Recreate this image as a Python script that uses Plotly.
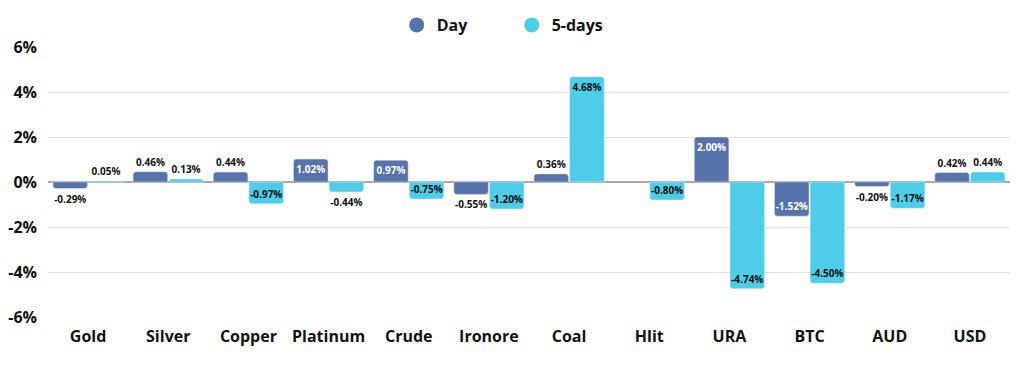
import plotly.graph_objects as go

categories = ["Gold", "Silver", "Copper", "Platinum", "Crude", "Ironore", "Coal", "Hlit", "URA", "BTC", "AUD", "USD"]
day_values = [-0.29, 0.46, 0.44, 1.02, 0.97, -0.55, 0.36, None, 2.00, -1.52, -0.20, 0.42]
five_day_values = [0.05, 0.13, -0.97, -0.44, -0.75, -1.20, 4.68, -0.80, -4.74, -4.50, -1.17, 0.44]
y_ticks = [-6, -4, -2, 0, 2, 4, 6]
y_tick_labels = ["-6%", "-4%", "-2%", "0%", "2%", "4%", "6%"]

FONT = "Open Sans"
DAY_COLOR = "#5873AB"
FIVE_COLOR = "#4ECDE8"


def labels(vals):
    return ["" if v is None else f"{v:.2f}%" for v in vals]


def positions(vals):
    return ["outside" if (v is None or abs(v) < 0.7) else "inside" for v in vals]


def text_colors(vals, inside_color):
    return [inside_color if (v is not None and abs(v) >= 0.7) else "#111111" for v in vals]


fig = go.Figure()
fig.add_trace(go.Bar(
    name="Day", x=categories, y=day_values, marker_color=DAY_COLOR,
    text=labels(day_values), textposition=positions(day_values),
    insidetextanchor="end", textangle=0, constraintext="none",
    textfont=dict(family=FONT, size=10, weight=700, color=text_colors(day_values, "#ffffff")),
    cliponaxis=False, showlegend=False,
))
fig.add_trace(go.Bar(
    name="5-days", x=categories, y=five_day_values, marker_color=FIVE_COLOR,
    text=labels(five_day_values), textposition=positions(five_day_values),
    insidetextanchor="end", textangle=0, constraintext="none",
    textfont=dict(family=FONT, size=10, weight=700, color=text_colors(five_day_values, "#111111")),
    cliponaxis=False, showlegend=False,
))
# circle legend entries
for name, color in [("Day", DAY_COLOR), ("5-days", FIVE_COLOR)]:
    fig.add_trace(go.Scatter(
        name=name, x=[None], y=[None], mode="markers",
        marker=dict(symbol="circle", size=15, color=color), showlegend=True,
    ))

fig.update_layout(
    width=1024, height=375,
    margin=dict(l=40, r=22, t=39, b=66, autoexpand=False),
    paper_bgcolor="white", plot_bgcolor="white",
    barmode="group", bargap=0.11, bargroupgap=0.03, barcornerradius=3,
    font=dict(family=FONT, color="#111111"),
    legend=dict(orientation="h", x=0.482, xanchor="center", y=1.0, yanchor="top",
                yref="container", font=dict(family=FONT, size=16, weight=700),
                traceorder="normal", entrywidth=70, itemwidth=30),
    xaxis=dict(tickfont=dict(family=FONT, size=16, weight=700), showgrid=False,
               showline=False, ticks="", ticklabelstandoff=8),
    yaxis=dict(range=[-6, 6], tickvals=y_ticks, ticktext=y_tick_labels,
               tickfont=dict(family=FONT, size=16, weight=700),
               showgrid=True, gridcolor="#e0e0e0", gridwidth=1,
               zeroline=True, zerolinecolor="#a9a9a9", zerolinewidth=1.5,
               ticklabelstandoff=10),
)

fig.write_html("out.html")
